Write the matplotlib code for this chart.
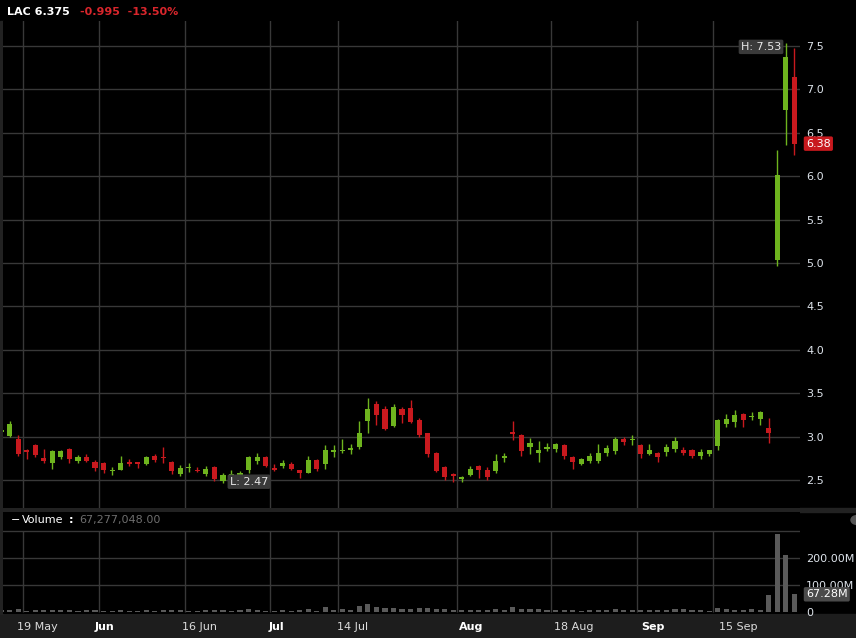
import matplotlib
matplotlib.use("Agg")
import matplotlib.pyplot as plt
from matplotlib.patches import Rectangle, Circle
from matplotlib.transforms import blended_transform_factory

# daily candles, one per trading day (index -1 is the half hidden first one)
opens = [3.05, 3.01, 2.97, 2.84, 2.90, 2.75, 2.69, 2.76, 2.86, 2.72, 2.77, 2.71, 2.70, 2.60, 2.62, 2.71,
         2.71, 2.68, 2.78, 2.76, 2.71, 2.57, 2.64, 2.62, 2.57, 2.65, 2.49, 2.53, 2.54, 2.62, 2.72, 2.77,
         2.64, 2.66, 2.68, 2.62, 2.58, 2.73, 2.68, 2.82, 2.83, 2.84, 2.88, 3.18, 3.37, 3.32, 3.12, 3.32,
         3.33, 3.19, 3.04, 2.81, 2.65, 2.57, 2.51, 2.56, 2.66, 2.62, 2.60, 2.75, 3.05, 3.02, 2.88, 2.81,
         2.86, 2.86, 2.90, 2.77, 2.68, 2.72, 2.72, 2.81, 2.83, 2.97, 2.96, 2.90, 2.80, 2.81, 2.82, 2.86,
         2.85, 2.84, 2.78, 2.80, 2.89, 3.15, 3.17, 3.26, 3.22, 3.20, 3.10, 5.03, 6.76, 7.14]
highs = [3.10, 3.18, 3.02, 2.86, 2.91, 2.86, 2.85, 2.85, 2.87, 2.79, 2.80, 2.73, 2.71, 2.65, 2.78, 2.74,
         2.71, 2.78, 2.80, 2.88, 2.72, 2.67, 2.70, 2.65, 2.66, 2.66, 2.58, 2.62, 2.60, 2.78, 2.81, 2.78,
         2.68, 2.73, 2.71, 2.62, 2.78, 2.74, 2.90, 2.90, 2.97, 2.91, 3.18, 3.44, 3.41, 3.35, 3.37, 3.34,
         3.42, 3.21, 3.04, 2.82, 2.66, 2.58, 2.55, 2.66, 2.67, 2.65, 2.80, 2.81, 3.18, 3.03, 2.98, 2.95,
         2.93, 2.93, 2.92, 2.78, 2.75, 2.81, 2.91, 2.90, 3.00, 3.00, 3.02, 2.91, 2.91, 2.82, 2.92, 3.00,
         2.88, 2.86, 2.86, 2.85, 3.20, 3.26, 3.31, 3.27, 3.28, 3.29, 3.21, 6.30, 7.53, 7.48]
lows = [3.03, 2.99, 2.78, 2.74, 2.77, 2.70, 2.63, 2.74, 2.69, 2.69, 2.71, 2.60, 2.58, 2.56, 2.62, 2.66,
        2.64, 2.67, 2.71, 2.69, 2.57, 2.54, 2.59, 2.59, 2.55, 2.49, 2.47, 2.52, 2.52, 2.58, 2.68, 2.65,
        2.60, 2.64, 2.61, 2.52, 2.58, 2.60, 2.63, 2.77, 2.81, 2.80, 2.86, 3.04, 3.13, 3.08, 3.11, 3.16,
        3.16, 2.99, 2.77, 2.59, 2.50, 2.48, 2.48, 2.54, 2.52, 2.50, 2.58, 2.71, 2.96, 2.78, 2.80, 2.71,
        2.83, 2.82, 2.74, 2.63, 2.67, 2.69, 2.69, 2.78, 2.80, 2.90, 2.90, 2.75, 2.79, 2.71, 2.78, 2.82,
        2.79, 2.75, 2.74, 2.78, 2.85, 3.11, 3.11, 3.11, 3.19, 3.13, 2.93, 4.96, 6.36, 6.24]
closes = [3.08, 3.15, 2.80, 2.82, 2.79, 2.72, 2.83, 2.83, 2.74, 2.77, 2.72, 2.64, 2.62, 2.62, 2.70, 2.68,
          2.68, 2.76, 2.73, 2.75, 2.60, 2.64, 2.65, 2.60, 2.63, 2.51, 2.56, 2.57, 2.58, 2.76, 2.76, 2.66,
          2.62, 2.70, 2.63, 2.58, 2.73, 2.63, 2.84, 2.84, 2.85, 2.87, 3.04, 3.32, 3.25, 3.09, 3.34, 3.25,
          3.17, 3.02, 2.80, 2.60, 2.53, 2.55, 2.53, 2.63, 2.61, 2.53, 2.72, 2.78, 3.03, 2.83, 2.93, 2.85,
          2.88, 2.91, 2.78, 2.71, 2.74, 2.78, 2.81, 2.87, 2.97, 2.94, 2.97, 2.80, 2.85, 2.76, 2.88, 2.95,
          2.81, 2.78, 2.82, 2.84, 3.19, 3.20, 3.25, 3.19, 3.24, 3.28, 3.04, 6.01, 7.37, 6.375]
# volume in millions of shares
volumes = [8, 8, 12, 5.5, 8, 8, 8, 8, 8, 6, 8, 8, 6, 6, 8, 6,
           6, 8, 6, 8, 8, 8, 6, 6, 8, 8, 8, 6, 8, 12, 8, 6,
           6, 8, 6, 8, 12, 6, 19, 8, 12, 8, 23, 31, 20, 15, 15, 12,
           12, 15, 15, 12, 12, 8, 8, 8, 8, 8, 12, 8, 20, 12, 12, 12,
           8, 8, 8, 8, 6, 8, 8, 8, 12, 8, 8, 8, 8, 8, 8, 12,
           12, 8, 8, 6, 15, 12, 8, 8, 12, 8, 63, 291, 214, 67.28]

date_labels = ["19 May", "Jun", "16 Jun", "Jul", "14 Jul", "Aug", "18 Aug", "Sep", "15 Sep"]
date_bold = [False, True, False, True, False, True, False, True, False]
date_grid = [1.5, 10.5, 20.5, 30.5, 38.5, 52.5, 63.5, 73.5, 82.5]
label_pos = [0.85, 10.0, 20.2, 30.3, 38.4, 52.7, 63.8, 74.0, 83.2]

price_ticks = [2.5, 3.0, 3.5, 4.0, 4.5, 5.0, 5.5, 6.0, 6.5, 7.0, 7.5]

GREEN = "#6eb41e"
RED = "#c8191e"
GRID = "#383838"
FRAME = "#222222"

W, H = 856, 638
fig = plt.figure(figsize=(W / 100, H / 100), dpi=100)
fig.patch.set_facecolor("black")

# frame pieces (behind the axes)
fig.patches.append(Rectangle((0, 0), 1, 24 / H, transform=fig.transFigure, color="#1d1d1d", zorder=-1))
fig.patches.append(Rectangle((0, (H - 512) / H), 1, 4 / H, transform=fig.transFigure, color=FRAME, zorder=-1))
fig.patches.append(Rectangle((0, 24 / H), 3 / W, (H - 45) / H, transform=fig.transFigure, color=FRAME, zorder=-1))

ax = fig.add_axes([3 / W, (H - 508) / H, 797 / W, 487 / H])
axv = fig.add_axes([3 / W, 24 / H, 797 / W, 102 / H])

xs = list(range(-1, len(opens) - 1))

for a in (ax, axv):
    a.set_facecolor("black")
    for s in a.spines.values():
        s.set_visible(False)
    a.set_xlim(-0.79, 92.66)

# price panel
ax.set_ylim(2.177, 7.788)
ax.set_yticks(price_ticks)
ax.set_yticklabels([f"{t:.1f}" for t in price_ticks])
ax.yaxis.tick_right()
ax.tick_params(axis="y", length=0, pad=4.3, labelsize=8, labelcolor="#dde3ea")
ax.set_xticks(date_grid)
ax.tick_params(axis="x", length=0, labelbottom=False)
ax.grid(True, color=GRID, linewidth=1)
ax.set_axisbelow(True)

colors = [GREEN if c >= o else RED for o, c in zip(opens, closes)]
bottoms = [min(o, c) for o, c in zip(opens, closes)]
heights = [max(abs(c - o), 0.012) for o, c in zip(opens, closes)]
ax.vlines(xs, lows, highs, colors=colors, linewidth=1, zorder=2)
ax.bar(xs, heights, bottom=bottoms, width=0.6, color=colors, linewidth=0, zorder=3)

box = dict(boxstyle="round,pad=0.2,rounding_size=0.15", fc="#3a3a3a", ec="none")
ax.text(90.45, 7.49, "H: 7.53", ha="right", va="center", fontsize=8, color="#e8e8e8", bbox=box, zorder=5)
ax.text(25.8, 2.48, "L: 2.47", ha="left", va="center", fontsize=8, color="#e8e8e8", bbox=box, zorder=5)
ax.text(1.0075, 6.375, "6.38", transform=blended_transform_factory(ax.transAxes, ax.transData),
        ha="left", va="center", fontsize=8, color="white", clip_on=False,
        bbox=dict(boxstyle="round,pad=0.2,rounding_size=0.15", fc="#c8191e", ec="none"))

# header
fig.text(7 / W, 1 - 12 / H, "LAC 6.375", ha="left", va="center", fontsize=8, fontweight="bold", color="white")
fig.text(80 / W, 1 - 12 / H, "-0.995  -13.50%", ha="left", va="center", fontsize=8, fontweight="bold",
         color="#d9262c")

# volume panel
axv.set_ylim(-5.6, 372)
axv.set_yticks([0, 100, 200])
axv.set_yticklabels(["0", "100.00M", "200.00M"])
axv.yaxis.tick_right()
axv.tick_params(axis="y", length=0, pad=4.3, labelsize=8, labelcolor="#dde3ea")
axv.set_xticks([])
for v in (100, 200, 300):
    axv.axhline(v, color=GRID, linewidth=1, zorder=0)
axv.vlines(date_grid, 0, 300, color=GRID, linewidth=1, zorder=0)
axv.bar(xs, volumes, width=0.6, color="#5a5a5a", linewidth=0, zorder=2)
axv.text(1.0075, 67.28, "67.28M", transform=blended_transform_factory(axv.transAxes, axv.transData),
         ha="left", va="center", fontsize=8, color="white", clip_on=False, zorder=5,
         bbox=dict(boxstyle="round,pad=0.2,rounding_size=0.15", fc="#4a4a4a", ec="none"))

fig.text(11 / W, 1 - 520 / H, "\u2212", ha="left", va="center", fontsize=8, color="white")
fig.text(22 / W, 1 - 520 / H, "Volume", ha="left", va="center", fontsize=8, color="white")
fig.text(69 / W, 1 - 520 / H, ":", ha="left", va="center", fontsize=8, fontweight="bold", color="white")
fig.text(79 / W, 1 - 520 / H, "67,277,048.00", ha="left", va="center", fontsize=8, color="#6e6e6e")
fig.patches.append(Circle((857 / W, 1 - 520 / H), 6 / W, transform=fig.transFigure, color="#555555"))

# date labels in the bottom strip
tr = blended_transform_factory(axv.transData, fig.transFigure)
for pos, lab, bold in zip(label_pos, date_labels, date_bold):
    axv.text(pos, 11 / H, lab, transform=tr, ha="left", va="center", fontsize=8,
             fontweight="bold" if bold else "normal", color="white" if bold else "#dcdcdc", clip_on=False)

fig.savefig("out.png", dpi=100, facecolor=fig.get_facecolor())
